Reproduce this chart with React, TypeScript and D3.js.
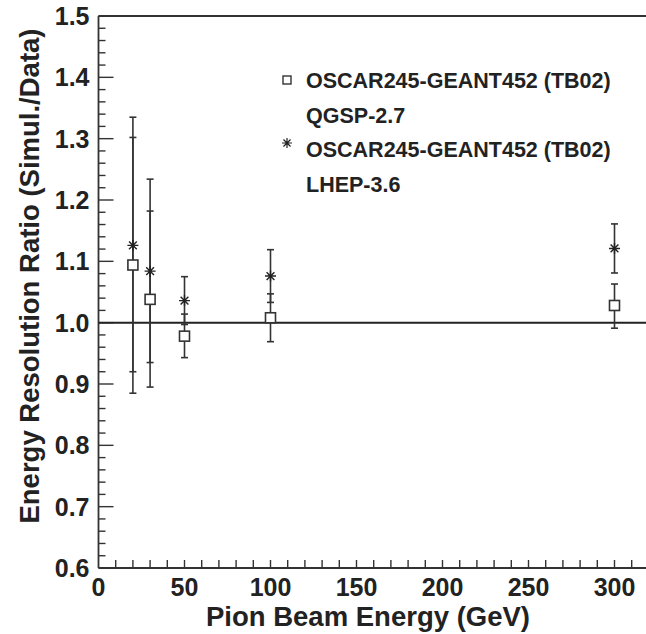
import React from "react";
import * as d3 from "d3";

const energies = [20, 30, 50, 100, 300];
const qgspRatio = [1.094, 1.038, 0.978, 1.008, 1.028];
const qgspLow = [0.885, 0.895, 0.943, 0.969, 0.991];
const qgspHigh = [1.302, 1.182, 1.014, 1.047, 1.063];
const lhepRatio = [1.126, 1.084, 1.036, 1.076, 1.121];
const lhepLow = [0.92, 0.935, 0.997, 1.033, 1.081];
const lhepHigh = [1.335, 1.234, 1.075, 1.119, 1.161];

const yTickLabels = ["0.6", "0.7", "0.8", "0.9", "1.0", "1.1", "1.2", "1.3", "1.4", "1.5"];
const xTickLabels = ["0", "50", "100", "150", "200", "250", "300"];
const legendLines = [
  "OSCAR245-GEANT452 (TB02)",
  "QGSP-2.7",
  "OSCAR245-GEANT452 (TB02)",
  "LHEP-3.6",
];

const W = 646;
const H = 634;
const FONT = "'Liberation Sans', Arial, Helvetica, sans-serif";
const INK = "#222";

export default function App() {
  const x = d3.scaleLinear().domain([0, 320]).range([98.5, 98.5 + 320 * 1.72]);
  const y = d3.scaleLinear().domain([0.6, 1.5]).range([568, 16]);

  const yMinor = d3.range(0.6, 1.5001, 0.02);
  const xMinor = d3.range(10, 321, 10);

  const starPath = (cx: number, cy: number, r: number) => {
    const d = r * 0.7071;
    return `M${cx - r},${cy}L${cx + r},${cy}M${cx},${cy - r}L${cx},${cy + r}M${cx - d},${cy - d}L${cx + d},${cy + d}M${cx - d},${cy + d}L${cx + d},${cy - d}`;
  };

  const errBar = (xv: number, lo: number, hi: number, key: string) => {
    const px = x(xv);
    return (
      <g key={key} stroke="#333" strokeWidth={1.6}>
        <line x1={px} x2={px} y1={y(lo)} y2={y(hi)} />
        <line x1={px - 3.5} x2={px + 3.5} y1={y(lo)} y2={y(lo)} />
        <line x1={px - 3.5} x2={px + 3.5} y1={y(hi)} y2={y(hi)} />
      </g>
    );
  };

  return (
    <svg
      width={W}
      height={H}
      style={{ position: "absolute", left: 0, top: 0, background: "#fff" }}
      fontFamily={FONT}
    >
      <rect x={0} y={0} width={W} height={H} fill="#fff" />
      {/* frame */}
      <g stroke="#333" strokeWidth={1.8} fill="none">
        <line x1={x(0)} x2={W} y1={y(1.5)} y2={y(1.5)} />
        <line x1={x(0)} x2={x(0)} y1={y(1.5)} y2={y(0.6)} />
        <line x1={x(0)} x2={W} y1={y(0.6)} y2={y(0.6)} />
      </g>
      {/* ticks */}
      <g stroke="#333" strokeWidth={1.4}>
        {yMinor.map((v, i) => {
          const major = i % 5 === 0;
          return (
            <line
              key={"ym" + i}
              x1={x(0)}
              x2={x(0) + (major ? 15 : 7)}
              y1={y(v)}
              y2={y(v)}
            />
          );
        })}
        {xMinor.map((v, i) => (
          <line key={"xm" + i} x1={x(v)} x2={x(v)} y1={y(0.6)} y2={y(0.6) - 8} />
        ))}
      </g>
      {/* y labels */}
      <g fontSize={25} fontWeight="bold" fill={INK} textAnchor="end">
        {yTickLabels.map((t) => (
          <text key={t} x={x(0) - 9} y={y(+t) + 9}>
            {t}
          </text>
        ))}
      </g>
      {/* x labels */}
      <g fontSize={25} fontWeight="bold" fill={INK} textAnchor="middle">
        {xTickLabels.map((t) => (
          <text key={t} x={x(+t)} y={596}>
            {t}
          </text>
        ))}
      </g>
      <text
        x={368}
        y={626}
        fontSize={27.5}
        fontWeight="bold"
        fill={INK}
        textAnchor="middle"
      >
        Pion Beam Energy (GeV)
      </text>
      <text
        transform={`translate(39,${276}) rotate(-90)`}
        fontSize={27.5}
        fontWeight="bold"
        fill={INK}
        textAnchor="middle"
      >
        Energy Resolution Ratio (Simul./Data)
      </text>
      {/* reference line */}
      <line x1={x(0)} x2={W} y1={y(1.0)} y2={y(1.0)} stroke="#222" strokeWidth={2} />
      {/* error bars */}
      {energies.map((e, i) => errBar(e, qgspLow[i], qgspHigh[i], "q" + i))}
      {energies.map((e, i) => errBar(e, lhepLow[i], lhepHigh[i], "l" + i))}
      {/* markers */}
      {energies.map((e, i) => (
        <rect
          key={"sq" + i}
          x={x(e) - 5}
          y={y(qgspRatio[i]) - 5}
          width={10}
          height={10}
          fill="#fff"
          stroke="#333"
          strokeWidth={1.6}
        />
      ))}
      {energies.map((e, i) => (
        <path
          key={"st" + i}
          d={starPath(x(e), y(lhepRatio[i]), 5.5)}
          stroke="#222"
          strokeWidth={1.4}
          fill="none"
        />
      ))}
      {/* legend */}
      <rect x={283} y={76} width={8} height={8} fill="#fff" stroke="#333" strokeWidth={1.4} />
      <path d={starPath(287, 143, 5)} stroke="#222" strokeWidth={1.2} fill="none" />
      <g fontSize={21.5} fontWeight="bold" fill={INK}>
        {legendLines.map((t, i) => (
          <text key={i} x={306} y={88 + i * 34.5}>
            {t}
          </text>
        ))}
      </g>
    </svg>
  );
}
